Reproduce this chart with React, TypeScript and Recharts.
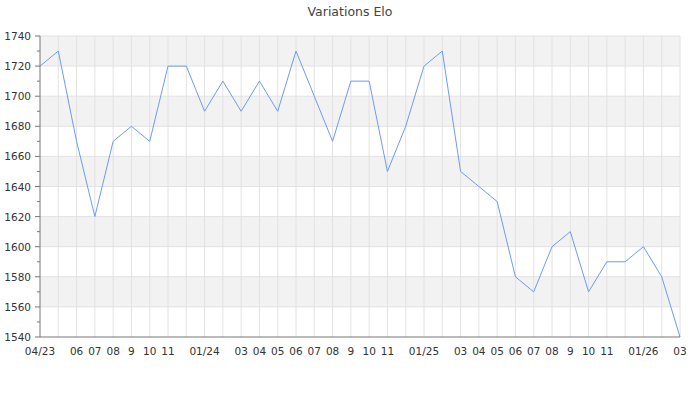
import { LineChart, Line, XAxis, YAxis, ReferenceArea, ReferenceLine } from "recharts"

// one point per month, 04/23 -> 03/26
const months = [
  "2023-04", "2023-05", "2023-06", "2023-07", "2023-08", "2023-09", "2023-10", "2023-11", "2023-12",
  "2024-01", "2024-02", "2024-03", "2024-04", "2024-05", "2024-06", "2024-07", "2024-08", "2024-09",
  "2024-10", "2024-11", "2024-12", "2025-01", "2025-02", "2025-03", "2025-04", "2025-05", "2025-06",
  "2025-07", "2025-08", "2025-09", "2025-10", "2025-11", "2025-12", "2026-01", "2026-02", "2026-03",
]

const monthLabels = [
  "04/23", "", "06", "07", "08", "9", "10", "11", "",
  "01/24", "", "03", "04", "05", "06", "07", "08", "9",
  "10", "11", "", "01/25", "", "03", "04", "05", "06",
  "07", "08", "9", "10", "11", "", "01/26", "", "03",
]

const elo = [
  1720, 1730, 1670, 1620, 1670, 1680, 1670, 1720, 1720,
  1690, 1710, 1690, 1710, 1690, 1730, 1700, 1670, 1710,
  1710, 1650, 1680, 1720, 1730, 1650, 1640, 1630, 1580,
  1570, 1600, 1610, 1570, 1590, 1590, 1600, 1580, 1540,
]

const yMajor = [1540, 1560, 1580, 1600, 1620, 1640, 1660, 1680, 1700, 1720, 1740]
const yAll = [
  1540, 1550, 1560, 1570, 1580, 1590, 1600, 1610, 1620, 1630, 1640,
  1650, 1660, 1670, 1680, 1690, 1700, 1710, 1720, 1730, 1740,
]

const data = months.map((m, i) => ({ month: m, label: monthLabels[i], elo: elo[i] }))

// grey bands: 1560-1580, 1600-1620, ... 1720-1740
const bands = yMajor.slice(1, -1).filter((_v, i) => i % 2 === 0).map((v) => [v, v + 20])

const FONT = "'DejaVu Sans', sans-serif"
const GRID = "#e2e2e2"
const AXIS = "#777"

// labels on every 20, short tick marks on every 10
function YTick(props: any) {
  const { x, y, payload } = props
  const major = payload.value % 20 === 0
  return (
    <g>
      <line x1={x + (major ? 4 : 6)} x2={x + 9} y1={y} y2={y} stroke={AXIS} />
      {major && (
        <text x={x} y={y} dy={4} textAnchor="end" fontSize={10.5} fill="#333" fontFamily={FONT}>
          {payload.value}
        </text>
      )}
    </g>
  )
}

export default function App() {
  return (
    <div style={{ position: "absolute", left: 0, top: 0, width: 700, height: 400, background: "#fff" }}>
      <div
        style={{
          position: "absolute", left: 0, top: 4, width: 700, textAlign: "center",
          fontFamily: FONT, fontSize: 12.5, color: "#444",
        }}
      >
        Variations Elo
      </div>
      <LineChart width={700} height={400} data={data} margin={{ top: 36, right: 20, bottom: 33, left: 0 }}>
        {bands.map(([a, b]) => (
          <ReferenceArea key={a} y1={a} y2={b} fill="#f2f2f2" fillOpacity={1} stroke="none" zIndex={-200} />
        ))}
        {/* grid, skipping the lines that sit on the axes */}
        {months.slice(1).map((m) => (
          <ReferenceLine key={m} x={m} stroke={GRID} zIndex={-100} />
        ))}
        {yMajor.slice(1).map((v) => (
          <ReferenceLine key={v} y={v} stroke={GRID} zIndex={-100} />
        ))}
        <XAxis
          dataKey="month"
          interval={0}
          tickFormatter={(_v: string, i: number) => monthLabels[i]}
          tickLine={false}
          tickSize={6}
          tickMargin={5}
          height={30}
          axisLine={{ stroke: AXIS }}
          tick={{ fontSize: 10.5, fill: "#333", fontFamily: FONT }}
        />
        <YAxis
          domain={[1540, 1740]}
          ticks={yAll}
          interval={0}
          width={40}
          tickLine={false}
          tickSize={5}
          tickMargin={4}
          axisLine={{ stroke: AXIS }}
          tick={<YTick />}
        />
        <Line
          type="linear"
          dataKey="elo"
          stroke="#6d9bf1"
          strokeWidth={1}
          dot={false}
          isAnimationActive={false}
        />
      </LineChart>
    </div>
  )
}
